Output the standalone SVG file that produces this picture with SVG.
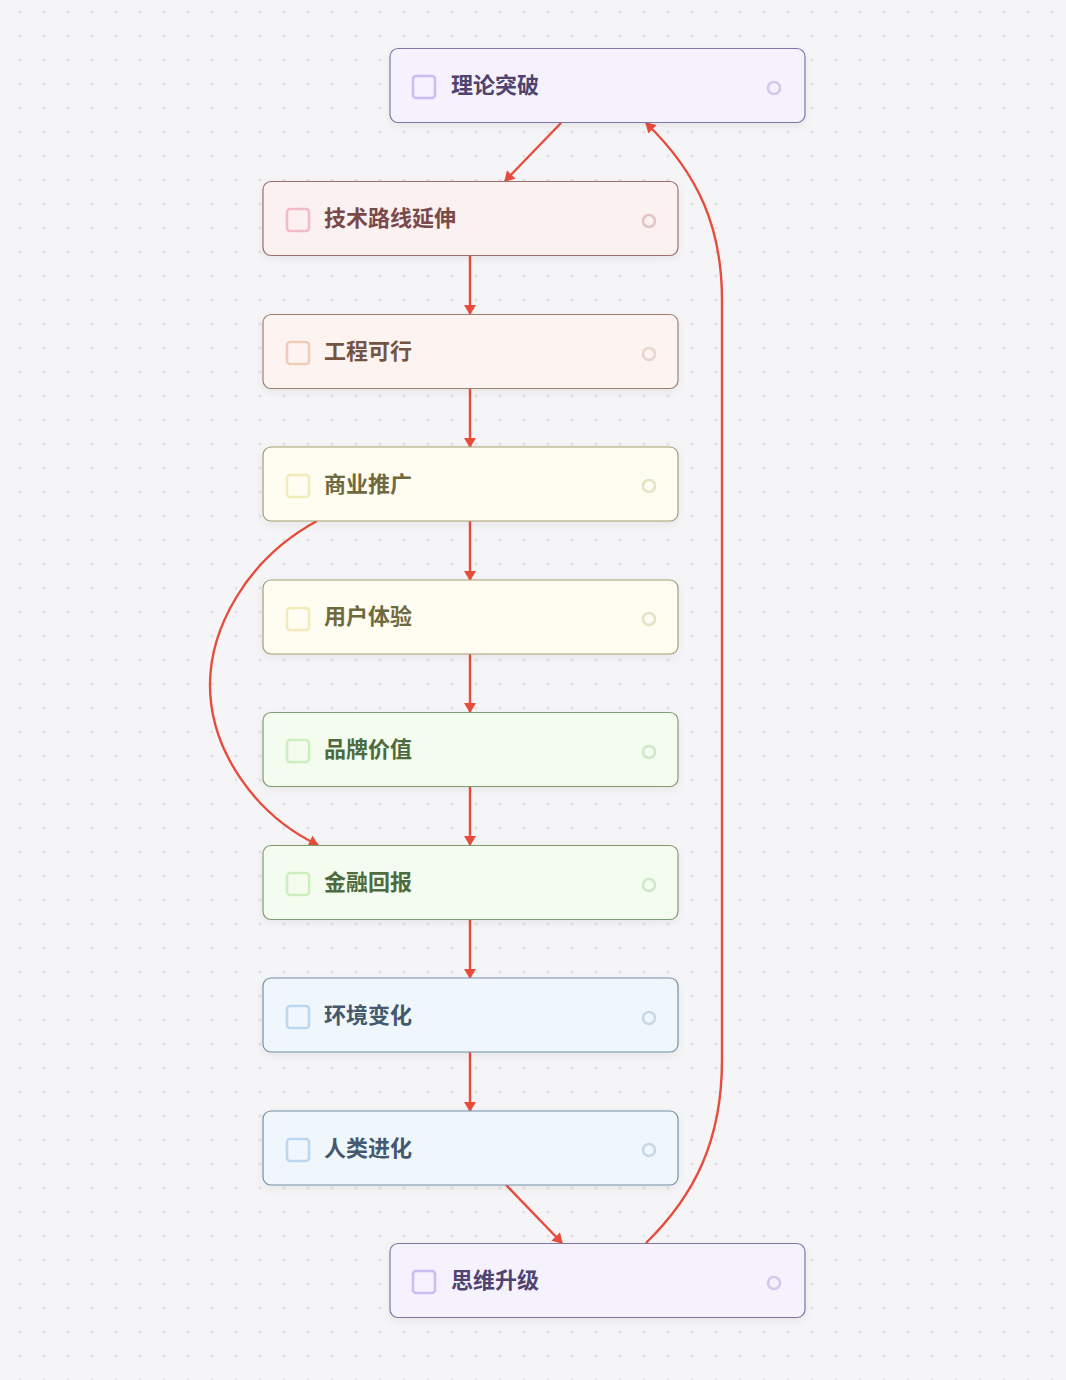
<svg xmlns="http://www.w3.org/2000/svg" width="1066" height="1380" viewBox="0 0 1066 1380">
<defs>
<pattern id="dots" x="8" y="0" width="24" height="24" patternUnits="userSpaceOnUse">
<circle cx="12" cy="12" r="1.6" fill="#e2e2e6"/>
</pattern>
<filter id="sh" x="-10%" y="-30%" width="120%" height="160%">
<feDropShadow dx="0" dy="3" stdDeviation="4" flood-color="#000" flood-opacity="0.06"/>
</filter>
<marker id="arr" markerUnits="userSpaceOnUse" markerWidth="12" markerHeight="12" viewBox="0 0 10 12" refX="9" refY="6" orient="auto">
<path d="M0,0 L10,6 L0,12 z" fill="#e74c3c"/>
</marker>
</defs>
<style>
.bx{stroke-width:1.2;filter:url(#sh)}
.t{font-family:"Noto Sans CJK SC","Noto Sans",sans-serif;font-size:22px;font-weight:700}
.cb{fill:none;stroke-width:2.6}
.dot{fill:none;stroke-width:2.6}
.e{fill:none;stroke:#e74c3c;stroke-width:2.4}
.pu .bx{fill:#f5f2fd;stroke:#7f74a8}.pu .t{fill:#4f4470}.pu .cb{stroke:#cbbdf4}.pu .dot{stroke:#d3c9ec}
.pk .bx{fill:#fcf1f1;stroke:#9c6e6e}.pk .t{fill:#7a4a4a}.pk .cb{stroke:#efbcc8}.pk .dot{stroke:#e4c5c5}
.pe .bx{fill:#fdf4f1;stroke:#a0806f}.pe .t{fill:#735443}.pe .cb{stroke:#f0cdb8}.pe .dot{stroke:#e8d6cc}
.ye .bx{fill:#fffcf2;stroke:#a29d72}.ye .t{fill:#6f6a3e}.ye .cb{stroke:#f1ebbc}.ye .dot{stroke:#e6e2c6}
.gr .bx{fill:#f3fcef;stroke:#7f9c70}.gr .t{fill:#4d6b3e}.gr .cb{stroke:#cdefc0}.gr .dot{stroke:#d0e8c8}
.bl .bx{fill:#f0f7fc;stroke:#7290a8}.bl .t{fill:#44586e}.bl .cb{stroke:#bcd8f1}.bl .dot{stroke:#c9d8e6}
</style>
<rect width="1066" height="1380" fill="#f5f5f7"/>
<rect width="1066" height="1380" fill="url(#dots)"/>

<g id="edges">
<path class="e" d="M561,123 L505,181" marker-end="url(#arr)"/>
<path class="e" d="M470,255 L470,314" marker-end="url(#arr)"/>
<path class="e" d="M470,388 L470,447" marker-end="url(#arr)"/>
<path class="e" d="M470,521 L470,580" marker-end="url(#arr)"/>
<path class="e" d="M470,654 L470,712" marker-end="url(#arr)"/>
<path class="e" d="M470,786 L470,845" marker-end="url(#arr)"/>
<path class="e" d="M470,919 L470,978" marker-end="url(#arr)"/>
<path class="e" d="M470,1052 L470,1111" marker-end="url(#arr)"/>
<path class="e" d="M506,1185 L562,1243" marker-end="url(#arr)"/>
<path class="e" d="M317,521 C245,560 210,630 210,685 C210,750 255,815 318,845" marker-end="url(#arr)"/>
<path class="e" d="M646,1243 C695,1195 722,1140 722,1060 L722,300 C722,230 700,175 646,123" marker-end="url(#arr)"/>
</g>

<g id="n1" class="pu"><rect class="bx" x="390" y="48.5" width="415" height="74" rx="8"/><rect class="cb" x="413" y="76" width="22" height="22" rx="3"/><text class="t" x="451" y="93">理论突破</text><circle class="dot" cx="774" cy="88" r="6"/></g>
<g id="n2" class="pk"><rect class="bx" x="263" y="181.5" width="415" height="74" rx="8"/><rect class="cb" x="287" y="209" width="22" height="22" rx="3"/><text class="t" x="324" y="226">技术路线延伸</text><circle class="dot" cx="649" cy="221" r="6"/></g>
<g id="n3" class="pe"><rect class="bx" x="263" y="314.5" width="415" height="74" rx="8"/><rect class="cb" x="287" y="342" width="22" height="22" rx="3"/><text class="t" x="324" y="359">工程可行</text><circle class="dot" cx="649" cy="354" r="6"/></g>
<g id="n4" class="ye"><rect class="bx" x="263" y="447" width="415" height="74" rx="8"/><rect class="cb" x="287" y="475" width="22" height="22" rx="3"/><text class="t" x="324" y="492">商业推广</text><circle class="dot" cx="649" cy="486" r="6"/></g>
<g id="n5" class="ye"><rect class="bx" x="263" y="580" width="415" height="74" rx="8"/><rect class="cb" x="287" y="608" width="22" height="22" rx="3"/><text class="t" x="324" y="624">用户体验</text><circle class="dot" cx="649" cy="619" r="6"/></g>
<g id="n6" class="gr"><rect class="bx" x="263" y="712.5" width="415" height="74" rx="8"/><rect class="cb" x="287" y="740" width="22" height="22" rx="3"/><text class="t" x="324" y="757">品牌价值</text><circle class="dot" cx="649" cy="752" r="6"/></g>
<g id="n7" class="gr"><rect class="bx" x="263" y="845.5" width="415" height="74" rx="8"/><rect class="cb" x="287" y="873" width="22" height="22" rx="3"/><text class="t" x="324" y="890">金融回报</text><circle class="dot" cx="649" cy="885" r="6"/></g>
<g id="n8" class="bl"><rect class="bx" x="263" y="978" width="415" height="74" rx="8"/><rect class="cb" x="287" y="1006" width="22" height="22" rx="3"/><text class="t" x="324" y="1023">环境变化</text><circle class="dot" cx="649" cy="1018" r="6"/></g>
<g id="n9" class="bl"><rect class="bx" x="263" y="1111" width="415" height="74" rx="8"/><rect class="cb" x="287" y="1139" width="22" height="22" rx="3"/><text class="t" x="324" y="1156">人类进化</text><circle class="dot" cx="649" cy="1150" r="6"/></g>
<g id="n10" class="pu"><rect class="bx" x="390" y="1243.5" width="415" height="74" rx="8"/><rect class="cb" x="413" y="1271" width="22" height="22" rx="3"/><text class="t" x="451" y="1288">思维升级</text><circle class="dot" cx="774" cy="1283" r="6"/></g>
</svg>
